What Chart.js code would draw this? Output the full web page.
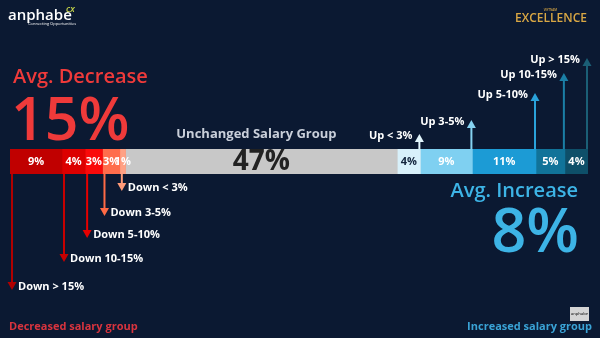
<!DOCTYPE html>
<html>
<head>
<meta charset="utf-8">
<script src="https://cdn.jsdelivr.net/npm/chart.js@4.4.0/dist/chart.umd.min.js"></script>
<style>
  html, body { margin: 0; padding: 0; background: #0b1932; }
  #wrap { position: relative; width: 600px; height: 338px; overflow: hidden; }
</style>
</head>
<body>
<div id="wrap">
  <canvas id="salaryChart" width="600" height="338"></canvas>
</div>
<script>
// Nhóm thay đổi lương, từ giảm mạnh nhất đến tăng mạnh nhất
const groups = ['Down > 15%', 'Down 10-15%', 'Down 5-10%', 'Down 3-5%', 'Down < 3%',
  'Unchanged Salary Group', 'Up < 3%', 'Up 3-5%', 'Up 5-10%', 'Up 10-15%', 'Up > 15%'];
const shares = [9, 4, 3, 3, 1, 47, 4, 9, 11, 5, 4];
const colors = ['#c00000', '#dc0000', '#fa0a0a', '#ff6d4c', '#ffa184', '#c8c8c8',
  '#d8f0fa', '#7fd0f1', '#1c9bd5', '#117399', '#0e4f69'];
const arrowColors = ['#b00000', '#c80000', '#e60000', '#ff6a45', '#ff9a78', null,
  '#e2f5fc', '#86d3f2', '#2aa2da', '#1b7fa6', '#1b5f76'];

const avgDecrease = 15;
const avgIncrease = 8;

// độ dài mũi tên (px) tính từ mép thanh
const arrowReach = [116, 88, 64, 42, 17, 0, 15, 29, 56, 76, 91];

const FONT = "'Open Sans', sans-serif";

const decorPlugin = {
  id: 'decor',
  afterDraw(chart) {
    const { ctx, chartArea } = chart;
    const xs = chart.scales.x;
    const top = chartArea.top, bottom = chartArea.bottom;
    const midY = (top + bottom) / 2;

    let start = 0;
    shares.forEach((v, i) => {
      const x0 = xs.getPixelForValue(start);
      const x1 = xs.getPixelForValue(start + v);
      start += v;

      // nhãn phần trăm trên thanh
      ctx.save();
      ctx.textAlign = 'center';
      ctx.textBaseline = 'middle';
      if (i === 5) {
        ctx.font = '700 28px ' + FONT;
        ctx.fillStyle = '#222';
        ctx.fillText(v + '%', (x0 + x1) / 2, midY + 1);
      } else {
        ctx.font = '700 11px ' + FONT;
        ctx.fillStyle = i === 6 ? '#14243c' : '#ffffff';
        ctx.fillText(v + '%', (x0 + x1) / 2, midY);
      }
      ctx.restore();

      if (i === 5) return;
      const down = i < 5;
      const ax = down ? x0 + 2 : x1 - 1;
      const tip = down ? bottom + arrowReach[i] : top - arrowReach[i];

      // mũi tên
      ctx.save();
      ctx.strokeStyle = arrowColors[i];
      ctx.fillStyle = arrowColors[i];
      ctx.lineWidth = 2;
      ctx.beginPath();
      if (down) {
        ctx.moveTo(ax, bottom);
        ctx.lineTo(ax, tip - 7);
      } else {
        ctx.moveTo(ax, top);
        ctx.lineTo(ax, tip + 7);
      }
      ctx.stroke();
      ctx.beginPath();
      if (down) {
        ctx.moveTo(ax - 4.5, tip - 8);
        ctx.lineTo(ax + 4.5, tip - 8);
        ctx.lineTo(ax, tip);
      } else {
        ctx.moveTo(ax - 4.5, tip + 8);
        ctx.lineTo(ax + 4.5, tip + 8);
        ctx.lineTo(ax, tip);
      }
      ctx.closePath();
      ctx.fill();

      ctx.font = '700 11px ' + FONT;
      ctx.fillStyle = '#ffffff';
      ctx.textBaseline = 'middle';
      if (down) {
        ctx.textAlign = 'left';
        ctx.fillText(groups[i], ax + 6, tip - 3);
      } else {
        ctx.textAlign = 'right';
        ctx.fillText(groups[i], ax - 7, tip + 2);
      }
      ctx.restore();
    });

    // tiêu đề các nhóm
    ctx.save();
    ctx.textBaseline = 'alphabetic';

    ctx.fillStyle = '#ef3a3a';
    ctx.textAlign = 'left';
    ctx.font = '600 20px ' + FONT;
    ctx.fillText('Avg. Decrease', 13, 83);
    ctx.font = '600 59px ' + FONT;
    ctx.fillText(avgDecrease + '%', 11, 140);

    ctx.fillStyle = '#c9cfda';
    ctx.textAlign = 'center';
    ctx.font = '700 13px ' + FONT;
    const unchX = (xs.getPixelForValue(20) + xs.getPixelForValue(67)) / 2 - 5;
    ctx.fillText(groups[5], unchX, 138);

    ctx.fillStyle = '#3db4e6';
    ctx.textAlign = 'right';
    ctx.font = '600 20px ' + FONT;
    ctx.fillText('Avg. Increase', 578, 197);
    ctx.font = '600 61px ' + FONT;
    ctx.fillText(avgIncrease + '%', 579, 252);

    ctx.font = '700 11px ' + FONT;
    ctx.fillStyle = '#d8343e';
    ctx.textAlign = 'left';
    ctx.fillText('Decreased salary group', 9, 330);
    ctx.fillStyle = '#3aa3d6';
    ctx.textAlign = 'right';
    ctx.fillText('Increased salary group', 592, 330);

    // logo góc trái
    ctx.textAlign = 'left';
    ctx.fillStyle = '#ffffff';
    ctx.font = '600 15px ' + FONT;
    ctx.fillText('anphabe', 8, 20);
    ctx.font = '400 4px ' + FONT;
    ctx.fillText('Connecting Opportunities', 28, 25);
    ctx.fillStyle = '#c8d84a';
    ctx.font = 'italic 600 9px ' + FONT;
    ctx.fillText('cx', 66, 12);

    // logo góc phải
    ctx.fillStyle = '#d9a744';
    ctx.textAlign = 'right';
    ctx.font = '600 12px ' + FONT;
    ctx.fillText('EXCELLENCE', 587, 22);
    ctx.font = '600 3px ' + FONT;
    ctx.fillText('VIETNAM', 557, 11);

    // logo nhỏ góc dưới
    ctx.fillStyle = '#d4d4d4';
    ctx.fillRect(570, 307, 19, 14);
    ctx.fillStyle = '#333';
    ctx.textAlign = 'left';
    ctx.font = '600 4px ' + FONT;
    ctx.fillText('anphabe', 571, 315);
    ctx.restore();
  }
};

const ctx = document.getElementById('salaryChart').getContext('2d');
new Chart(ctx, {
  type: 'bar',
  data: {
    labels: ['Salary'],
    datasets: groups.map((g, i) => ({
      label: g,
      data: [shares[i]],
      backgroundColor: colors[i],
      borderWidth: 0,
      barPercentage: 1.0,
      categoryPercentage: 1.0
    }))
  },
  options: {
    indexAxis: 'y',
    responsive: false,
    animation: false,
    layout: { padding: { left: 10, right: 12, top: 149, bottom: 164 } },
    scales: {
      x: { stacked: true, min: 0, max: 100, display: false },
      y: { stacked: true, display: false }
    },
    plugins: {
      legend: { display: false },
      tooltip: { enabled: false }
    }
  },
  plugins: [decorPlugin]
});
</script>
</body>
</html>
